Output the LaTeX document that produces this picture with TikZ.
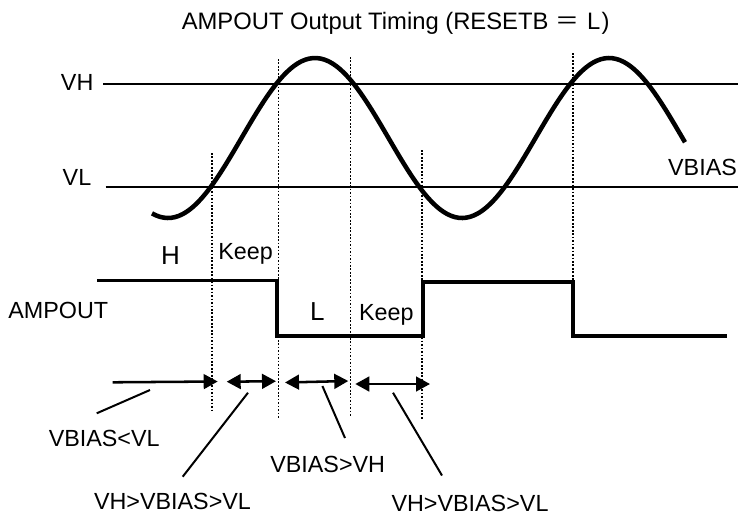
\documentclass[tikz,border=0pt]{standalone}
\usepackage{fontspec}
\setmainfont{Liberation Sans}
\newfontfamily\cjkfont{Noto Sans CJK JP}
\usetikzlibrary{arrows.meta}
\begin{document}
\begin{tikzpicture}[x=0.75pt,y=-0.75pt,
  lbl/.style={font=\fontsize{17.5}{20}\selectfont, inner sep=0pt, anchor=base},
  titlelbl/.style={font=\fontsize{17.85}{20}\selectfont, inner sep=0pt, anchor=base west},
  biglbl/.style={font=\fontsize{19.5}{22}\selectfont, inner sep=0pt, anchor=base},
  refpen/.style={line width=2.2pt},
  wavepen/.style={line width=3.4pt},
  levelpen/.style={line width=2.8pt},
  guide/.style={line width=1.3pt, dash pattern=on 1.3pt off 1.3pt},
  spanpen/.style={line width=1.9pt},
  leader/.style={line width=1.5pt},
  tip/.tip={Triangle[length=10.5pt,width=11pt]}
]
\useasboundingbox (0,0) rectangle (738,515);

% labels
\node[titlelbl] (title) at (181.5,29) {AMPOUT Output Timing (RESETB\hspace{5.5pt}{\cjkfont ＝}\hspace{5.5pt}L\kern1pt)};
\node[lbl] (vh) at (77.2,90) {VH};
\node[lbl] (vl) at (77,185) {VL};
\node[lbl] (vbias) at (702.5,175) {VBIAS};
\node[biglbl] (hlab) at (170.5,264) {H};
\node[lbl] (keepa) at (245.5,259.5) {Keep};
\node[lbl] (ampout) at (58.3,318.3) {AMPOUT};
\node[biglbl] (llab) at (317.3,320.7) {L};
\node[lbl] (keepb) at (386.3,320) {Keep};
\node[lbl] (c1) at (104.2,446.7) {VBIAS<VL};
\node[lbl] (c2) at (172.5,509.3) {VH>VBIAS>VL};
\node[lbl] (c3) at (327.7,472) {VBIAS>VH};
\node[lbl] (c4) at (470,511) {VH>VBIAS>VL};

% reference levels
\coordinate (vhA) at (103.3,84);  \coordinate (vhB) at (738,84);
\coordinate (vlA) at (105.7,187); \coordinate (vlB) at (738,187);
\draw[refpen] (vhA) -- (vhB);
\draw[refpen] (vlA) -- (vlB);

% VBIAS wave
\draw[wavepen] plot[domain=152:685, samples=140, smooth] (\x, {138-80*cos((\x-315)/294*360)});

% AMPOUT waveform
\coordinate (a0) at (97,280.5);
\coordinate (a1) at (277.3,280.5);
\coordinate (a2) at (277.3,336);
\coordinate (a3) at (423.3,336);
\coordinate (a4) at (423.3,281.7);
\coordinate (a5) at (573,281.7);
\coordinate (a6) at (573,336);
\coordinate (a7) at (727,336);
\draw[levelpen] (a0) -- (a1) -- (a2) -- (a3) -- (a4) -- (a5) -- (a6) -- (a7);

% dotted guides
\coordinate (g1t) at (212,153);   \coordinate (g1b) at (212,411);
\coordinate (g2t) at (278.4,59);  \coordinate (g2b) at (278.4,418);
\coordinate (g3t) at (350.4,57);  \coordinate (g3b) at (350.4,416);
\coordinate (g4t) at (422,150);   \coordinate (g4b) at (422,419);
\coordinate (g5t) at (573,53);    \coordinate (g5b) at (573,281);
\foreach \g in {1,...,5} \draw[guide] (g\g t) -- (g\g b);

% spans
\coordinate (s1a) at (112.7,382.3); \coordinate (s1b) at (217.7,381.5);
\coordinate (s2a) at (226.7,381.7); \coordinate (s2b) at (276,381.2);
\coordinate (s3a) at (285,382.5);   \coordinate (s3b) at (348.3,381);
\coordinate (s4a) at (355.3,384);   \coordinate (s4b) at (430,384);
\draw[spanpen,-tip] (s1a) -- (s1b);
\draw[spanpen,tip-tip] (s2a) -- (s2b);
\draw[spanpen,tip-tip] (s3a) -- (s3b);
\draw[spanpen,tip-tip] (s4a) -- (s4b);

% leaders
\coordinate (l1a) at (150,390);   \coordinate (l1b) at (96.7,413.3);
\coordinate (l2a) at (248,392.7); \coordinate (l2b) at (182.7,476.7);
\coordinate (l3a) at (322.4,386); \coordinate (l3b) at (345,438);
\coordinate (l4a) at (393,392.7); \coordinate (l4b) at (442,475.5);
\draw[leader] (l1a) -- (l1b);
\draw[leader] (l2a) -- (l2b);
\draw[leader] (l3a) -- (l3b);
\draw[leader] (l4a) -- (l4b);
\end{tikzpicture}
\end{document}
